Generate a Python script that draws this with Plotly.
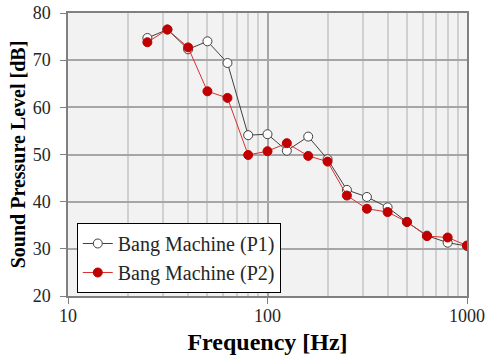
import plotly.graph_objects as go

freq = [25, 31.5, 40, 50, 63, 80, 100, 125, 160, 200, 250, 315, 400, 500, 630, 800, 1000]
p1 = [74.7, 76.5, 72.3, 74.0, 69.4, 54.1, 54.3, 50.8, 53.8, 49.0, 42.5, 41.0, 38.8, 35.7, 32.8, 31.3, 30.6]
p2 = [73.8, 76.5, 72.7, 63.4, 62.0, 49.9, 50.7, 52.4, 49.7, 48.5, 41.3, 38.5, 37.8, 35.7, 32.7, 32.4, 30.7]
names = ["Bang Machine (P1)", "Bang Machine (P2)"]

font = "Liberation Serif, Times New Roman, serif"

fig = go.Figure()
fig.add_trace(go.Scatter(
    x=freq, y=p1, name=names[0], mode="lines+markers",
    line=dict(color="#404040", width=1),
    marker=dict(size=9, color="white", line=dict(color="#404040", width=1)),
))
fig.add_trace(go.Scatter(
    x=freq, y=p2, name=names[1], mode="lines+markers",
    line=dict(color="#d83030", width=1),
    marker=dict(size=9, color="#c00000", line=dict(color="#c00000", width=1)),
))

fig.update_layout(
    width=487, height=358,
    margin=dict(l=68, r=20, t=13, b=62),
    paper_bgcolor="white", plot_bgcolor="#f2f2f2",
    font=dict(family=font, size=18, color="#262626"),
    showlegend=True,
    legend=dict(
        x=0.022, y=0.258, xanchor="left", yanchor="top",
        bgcolor="white", bordercolor="black", borderwidth=1,
        font=dict(family=font, size=20, color="#262626"),
        tracegroupgap=0, itemwidth=30,
    ),
)
fig.update_xaxes(
    type="log", range=[1, 3], dtick=1, automargin=False,
    showgrid=True, gridcolor="#a6a6a6", gridwidth=1.5,
    minor=dict(showgrid=True, gridcolor="#d0d0d0", dtick="D1", ticks=""),
    showline=True, linecolor="#808080", linewidth=1.5, mirror=True,
    ticks="outside", ticklen=6, tickcolor="#808080", ticklabelstandoff=-3,
    title=dict(text="<b>Frequency [Hz]</b>", font=dict(family=font, size=24, color="black"), standoff=8),
    tickfont=dict(family=font, size=18, color="#262626"),
    zeroline=False,
)
fig.update_yaxes(
    range=[20, 80], dtick=10, automargin=False,
    showgrid=True, gridcolor="#a6a6a6", gridwidth=1.5,
    showline=True, linecolor="#808080", linewidth=1.5, mirror=True,
    ticks="outside", ticklen=6, tickcolor="#808080", ticklabelstandoff=6,
    title=dict(text="<b>Sound Pressure Level [dB]</b>", font=dict(family=font, size=20, color="black"), standoff=2),
    tickfont=dict(family=font, size=18, color="#262626"),
    zeroline=False,
)

fig.write_html("out.html")
